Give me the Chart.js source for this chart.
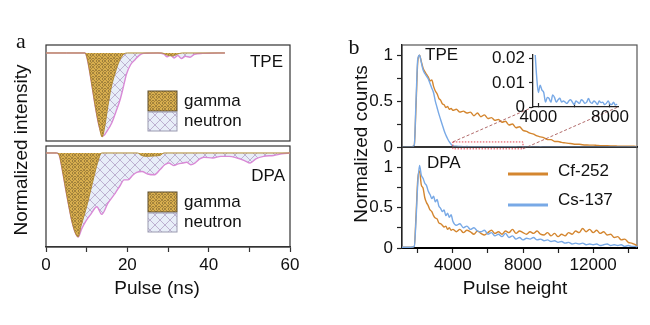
<!DOCTYPE html>
<html>
<head>
<meta charset="utf-8">
<script src="https://cdn.jsdelivr.net/npm/chart.js@4.4.1/dist/chart.umd.min.js"></script>
<style>
  html, body { margin: 0; padding: 0; background: #fff; }
  body { position: relative; width: 650px; height: 325px; overflow: hidden; font-family: Arial, "Liberation Sans", sans-serif; color: #111; }
  canvas { position: absolute; }
  .lbl { position: absolute; white-space: nowrap; line-height: 1; transform: translate(-50%, -50%); }
  .rot { transform: translate(-50%, -50%) rotate(-90deg); }
  .serif { font-family: "Liberation Serif", "Times New Roman", serif; font-size: 22px; }
</style>
</head>
<body>
<canvas id="aTop" width="300" height="105" style="left:0;top:40px"></canvas>
<canvas id="aBot" width="300" height="170" style="left:0;top:140px"></canvas>
<canvas id="bTop" width="310" height="118" style="left:340px;top:40px"></canvas>
<canvas id="bBot" width="310" height="170" style="left:340px;top:140px"></canvas>
<canvas id="bIns" width="160" height="90" style="left:470px;top:45px"></canvas>

<div class="lbl serif" style="left:21px;top:41px">a</div>
<div class="lbl serif" style="left:354px;top:47px">b</div>
<div class="lbl rot" style="left:20px;top:150px;font-size:19px">Normalized intensity</div>
<div class="lbl rot" style="left:360px;top:144px;font-size:19px">Normalized counts</div>
<div class="lbl" style="left:157px;top:287px;font-size:19px">Pulse (ns)</div>
<div class="lbl" style="left:515px;top:287px;font-size:19px">Pulse height</div>

<script>
// ---- panel a: pulse shapes (ns, normalized, negative going) ----
const tpeGammaNs  = [0, 5, 9.6, 10.1, 10.8, 11.5, 12.2, 13.1, 13.8, 14.5, 15.2, 16.0, 17.0, 18.0, 19.0, 20.0, 28.5, 29.8, 31.0, 32.2, 33.5, 44];
const tpeGammaVal = [0, 0, 0, -0.06, -0.24, -0.45, -0.66, -0.88, -1.0, -0.86, -0.64, -0.42, -0.24, -0.1, -0.02, 0, 0, -0.025, -0.035, -0.015, 0, 0];

const tpeNeutNs  = [0, 5, 9.6, 10.1, 10.8, 11.5, 12.2, 13.1, 14.0, 15.0, 16.2, 17.2, 18.2, 19.0, 19.8, 20.8, 21.9, 23.0, 24.0, 27.5, 29.0, 29.8, 30.6, 31.5, 32.4, 33.3, 34.3, 35.4, 36.5, 38.5, 44];
const tpeNeutVal = [0, 0, 0, -0.06, -0.24, -0.45, -0.66, -0.88, -0.99, -0.93, -0.83, -0.70, -0.56, -0.41, -0.25, -0.14, -0.08, -0.025, -0.005, 0, -0.015, -0.045, -0.025, -0.06, -0.03, -0.065, -0.04, -0.05, -0.015, -0.005, 0];

const dpaGammaNs  = [0, 2.5, 3.2, 4.0, 4.8, 5.6, 6.4, 7.2, 7.9, 8.6, 9.4, 10.2, 11.0, 11.8, 12.6, 13.7, 22.5, 23.5, 25.0, 26.5, 28.0, 29.0, 60];
const dpaGammaVal = [0, 0, -0.02, -0.2, -0.42, -0.63, -0.82, -0.95, -1.0, -0.87, -0.74, -0.6, -0.44, -0.28, -0.13, 0, 0, -0.03, -0.04, -0.035, -0.03, 0, 0];

const dpaNeutNs  = [0, 2.5, 3.2, 4.0, 4.8, 5.6, 6.4, 7.2, 7.9, 8.8, 9.8, 11.0, 12.5, 13.7, 15.2, 17.0, 18.2, 19.2, 20.2, 21.2, 22.3, 23.6, 25.0, 26.6, 28.0, 29.2, 30.2, 31.4, 32.5, 33.6, 34.6, 35.6, 36.6, 37.8, 38.8, 41.0, 43.0, 45.0, 47.0, 48.8, 50.2, 51.6, 53.5, 56.0, 58.0, 60];
const dpaNeutVal = [0, 0, -0.02, -0.2, -0.42, -0.63, -0.82, -0.95, -1.0, -0.9, -0.81, -0.73, -0.64, -0.73, -0.6, -0.48, -0.39, -0.32, -0.32, -0.27, -0.23, -0.22, -0.25, -0.26, -0.2, -0.14, -0.12, -0.15, -0.13, -0.12, -0.11, -0.14, -0.12, -0.07, -0.05, -0.06, -0.04, -0.04, -0.06, -0.09, -0.12, -0.07, -0.04, -0.03, -0.01, 0];

// ---- panel b: pulse height spectra ----
const heights = [1000, 1200, 1400, 1600,
  1800, 1900, 2000, 2100, 2200, 2300, 2400, 2500, 2600, 2700, 2800, 2900, 3000, 3100, 3200, 3300, 3400, 3500, 3600, 3700, 3800, 3900, 4000,
  4200, 4400, 4600, 4800, 5000, 5200, 5400, 5600, 5800, 6000, 6200, 6400, 6600, 6800, 7000, 7200, 7400, 7600, 7800, 8000,
  8200, 8400, 8600, 8800, 9000, 9200, 9400, 9600, 9800, 10000, 10200, 10400, 10600, 10800, 11000, 11200, 11400, 11600, 11800, 12000,
  12200, 12400, 12600, 12800, 13000, 13200, 13400, 13600, 13800, 14000, 14200, 14400, 14600];

const tpeCf = [0, 0, 0, 0,
  0.02, 0.45, 0.93, 1.0, 0.93, 0.86, 0.82, 0.79, 0.76, 0.72, 0.73, 0.66, 0.61, 0.58, 0.53, 0.51, 0.47, 0.46, 0.43, 0.44, 0.41, 0.42, 0.40,
  0.41, 0.38, 0.39, 0.37, 0.38, 0.34, 0.37, 0.33, 0.35, 0.31, 0.32, 0.29, 0.30, 0.27, 0.28, 0.24, 0.25, 0.21, 0.22, 0.18,
  0.17, 0.15, 0.14, 0.12, 0.11, 0.10, 0.08, 0.08, 0.06, 0.06, 0.05, 0.045, 0.04, 0.035, 0.03, 0.03, 0.025, 0.022, 0.02, 0.02,
  0.018, 0.015, 0.015, 0.013, 0.012, 0.012, 0.01, 0.01, 0.01, 0.008, 0.008, 0.007, 0.006];

const tpeCs = [0, 0, 0, 0,
  0.02, 0.5, 0.96, 1.0, 0.92, 0.84, 0.80, 0.77, 0.74, 0.69, 0.64, 0.59, 0.50, 0.43, 0.36, 0.30, 0.24, 0.18, 0.13, 0.09, 0.055, 0.03, 0.01,
  0.009, 0.006, 0.004, 0.005, 0.003, 0.003, 0.004, 0.002, 0.003, 0.002, 0.003, 0.002, 0.003, 0.002, 0.002, 0.003, 0.002, 0.002, 0.001, 0.002,
  0.001, 0.002, 0.001, 0.001, 0.002, 0.001, 0.001, 0.001, 0.001, 0.001, 0.001, 0.001, 0.001, 0.001, 0.001, 0.001, 0.001, 0.001, 0.001, 0.001,
  0.001, 0.001, 0.001, 0.001, 0.001, 0.001, 0.001, 0.001, 0.001, 0.001, 0.001, 0.001, 0.001];

const dpaCf = [0.01, 0.01, 0.01, 0.01,
  0.02, 0.4, 0.85, 0.95, 0.78, 0.74, 0.62, 0.56, 0.52, 0.47, 0.45, 0.40, 0.37, 0.36, 0.31, 0.30, 0.28, 0.26, 0.27, 0.23, 0.25, 0.22, 0.23,
  0.20, 0.23, 0.19, 0.22, 0.20, 0.17, 0.21, 0.18, 0.16, 0.19, 0.22, 0.18, 0.20, 0.17, 0.21, 0.19, 0.23, 0.18, 0.21, 0.19,
  0.17, 0.20, 0.18, 0.21, 0.17, 0.16, 0.19, 0.15, 0.18, 0.14, 0.17, 0.15, 0.19, 0.17, 0.21, 0.19, 0.24, 0.20, 0.23, 0.19,
  0.22, 0.18, 0.20, 0.16, 0.17, 0.13, 0.14, 0.10, 0.11, 0.07, 0.06, 0.04, 0.02];

const dpaCs = [0.01, 0.01, 0.01, 0.01,
  0.02, 0.35, 0.8, 1.02, 0.90, 0.86, 0.80, 0.77, 0.70, 0.66, 0.61, 0.64, 0.57, 0.60, 0.52, 0.49, 0.45, 0.47, 0.40, 0.43, 0.38, 0.41, 0.33,
  0.28, 0.30, 0.25, 0.27, 0.23, 0.25, 0.21, 0.20, 0.22, 0.17, 0.19, 0.15, 0.17, 0.14, 0.18, 0.13, 0.15, 0.11, 0.13, 0.10,
  0.12, 0.11, 0.13, 0.10, 0.11, 0.09, 0.10, 0.08, 0.09, 0.07, 0.08, 0.06, 0.07, 0.05, 0.06, 0.05, 0.06, 0.04, 0.05, 0.04,
  0.05, 0.03, 0.04, 0.05, 0.03, 0.04, 0.03, 0.04, 0.02, 0.03, 0.02, 0.02, 0.01];

// inset: TPE Cs-137 tail
const insetHeights = [3700, 3800, 3900, 4000, 4100, 4200, 4300, 4400, 4500, 4600, 4700, 4800, 4900, 5000, 5100, 5200, 5300, 5400, 5500, 5600,
  5700, 5800, 5900, 6000, 6100, 6200, 6300, 6400, 6500, 6600, 6700, 6800, 6900, 7000, 7100, 7200, 7300, 7400, 7500, 7600,
  7700, 7800, 7900, 8000, 8100, 8200, 8300, 8400];
const insetCs = [0.03, 0.024, 0.013, 0.006, 0.009, 0.007, 0.006, 0.002, 0.004, 0.0035, 0.002, 0.005, 0.004, 0.002, 0.003, 0.0036, 0.002, 0.0025, 0.002, 0.0015,
  0.0025, 0.003, 0.002, 0.001, 0.0025, 0.002, 0.0015, 0.003, 0.0025, 0.0015, 0.002, 0.0035, 0.002, 0.0015, 0.0025, 0.002, 0.001, 0.0025, 0.0018, 0.002,
  0.001, 0.0015, 0.0025, 0.0012, 0.001, 0.002, 0.0008, 0.0012];
const zoomRange = [4000, 8000];

// tick positions
const countTicksX = [2000, 4000, 6000, 8000, 10000, 12000, 14000];
const countTicksY = [0, 0.25, 0.5, 0.75, 1];
const insetTicksX = [4000, 6000, 8000];
const insetTicksY = [0, 0.01, 0.02];

const cfColor = '#d4862f';
const csColor = '#78a9e6';

Chart.defaults.font.family = 'Arial, "Liberation Sans", sans-serif';
Chart.defaults.font.size = 17;
Chart.defaults.color = '#111';

const pts = (xs, ys) => xs.map((x, i) => ({ x, y: ys[i] }));

function hatch(bg, ink, size, dot) {
  const cv = document.createElement('canvas');
  cv.width = cv.height = size;
  const g = cv.getContext('2d');
  g.fillStyle = bg;
  g.fillRect(0, 0, size, size);
  g.strokeStyle = ink;
  g.lineWidth = 0.7;
  g.beginPath();
  g.moveTo(0, 0); g.lineTo(size, size);
  g.moveTo(size, 0); g.lineTo(0, size);
  g.stroke();
  if (dot) {
    g.fillStyle = dot;
    g.fillRect(size / 2 - 0.5, 0, 1, 1);
    g.fillRect(0, size / 2 - 0.5, 1, 1);
  }
  return g.createPattern(cv, 'repeat');
}
const gammaFill = hatch('#d8ae4e', 'rgba(95,75,35,0.6)', 6, 'rgba(70,55,30,0.8)');
const neutFill = hatch('#e8eef8', 'rgba(150,120,170,0.75)', 10);

// frame, in-plot labels and legends
const deco = {
  id: 'deco',
  beforeDraw(chart, args, o) {
    if (!o.frame) return;
    const a = chart.chartArea, c = chart.ctx;
    c.save();
    c.strokeStyle = o.frame;
    c.lineWidth = 1.2;
    c.strokeRect(a.left, a.top, a.right - a.left, a.bottom - a.top);
    c.restore();
  },
  afterDraw(chart, args, o) {
    const a = chart.chartArea, c = chart.ctx;
    c.save();
    c.font = '17px Arial, "Liberation Sans", sans-serif';
    c.textBaseline = 'middle';
    c.fillStyle = '#111';
    (o.texts || []).forEach(t => {
      c.textAlign = t.align || 'left';
      c.fillText(t.text, a.left + t.x, a.top + t.y);
    });
    c.textAlign = 'left';
    (o.boxes || []).forEach(b => {
      const ds = chart.data.datasets[b.ds];
      c.fillStyle = ds.backgroundColor;
      c.fillRect(a.left + b.x, a.top + b.y, b.w, b.h);
      c.strokeStyle = b.edge;
      c.lineWidth = 1;
      c.strokeRect(a.left + b.x, a.top + b.y, b.w, b.h);
      c.fillStyle = '#111';
      c.fillText(ds.label, a.left + b.x + b.w + 7, a.top + b.y + b.h / 2);
    });
    (o.lines || []).forEach(l => {
      const ds = chart.data.datasets[l.ds];
      c.strokeStyle = ds.borderColor;
      c.lineWidth = 3;
      c.beginPath();
      c.moveTo(a.left + l.x1, a.top + l.y);
      c.lineTo(a.left + l.x2, a.top + l.y);
      c.stroke();
      c.fillStyle = '#111';
      c.fillText(ds.label, a.left + l.x2 + 10, a.top + l.ty);
    });
    c.restore();
  }
};
Chart.register(deco);

const fixWidth = w => s => { s.width = w; s.paddingLeft = s.paddingRight = s.paddingTop = s.paddingBottom = 0; };
const fixHeight = h => s => { s.height = h; s.paddingLeft = s.paddingRight = s.paddingTop = s.paddingBottom = 0; };
const useTicks = vals => s => { s.ticks = vals.map(v => ({ value: v })); };

function opts(padding, scales, decoOpts) {
  return {
    animation: false, responsive: false, devicePixelRatio: 1, events: [],
    layout: { padding },
    scales,
    elements: { point: { radius: 0 }, line: { cubicInterpolationMode: 'monotone' } },
    plugins: { legend: { display: false }, tooltip: { enabled: false }, deco: decoOpts }
  };
}

function pulseSets(gN, gV, nN, nV) {
  return [
    { label: 'gamma', data: pts(gN, gV), backgroundColor: gammaFill, borderColor: '#b08a34', borderWidth: 1, fill: 'origin', order: 0 },
    { label: 'neutron', data: pts(nN, nV), backgroundColor: neutFill, borderColor: '#d98ad6', borderWidth: 1.4, fill: 'origin', order: 1 }
  ];
}
const pulseBoxes = y0 => [
  { ds: 0, x: 102, y: y0, w: 29, h: 20, edge: '#5a4a2a' },
  { ds: 1, x: 102, y: y0 + 21, w: 29, h: 19, edge: '#9a9ab0' }
];

// panel a, TPE
new Chart(document.getElementById('aTop'), {
  type: 'line',
  data: { datasets: pulseSets(tpeGammaNs, tpeGammaVal, tpeNeutNs, tpeNeutVal) },
  options: opts({ left: 46, right: 10, top: 5, bottom: 4 }, {
    x: { type: 'linear', min: 0, max: 60, display: false },
    y: { min: -1.048, max: 0.095, display: false }
  }, { frame: '#333', texts: [{ text: 'TPE', x: 237, y: 17, align: 'right' }], boxes: pulseBoxes(46) })
});

// panel a, DPA
new Chart(document.getElementById('aBot'), {
  type: 'line',
  data: { datasets: pulseSets(dpaGammaNs, dpaGammaVal, dpaNeutNs, dpaNeutVal) },
  options: opts({ left: 46, right: 10, top: 6, bottom: 0 }, {
    x: {
      type: 'linear', min: 0, max: 60, afterFit: fixHeight(63),
      ticks: { stepSize: 10, padding: 3, maxRotation: 0, autoSkip: false, callback: v => (v % 20 === 0 ? String(v) : '') },
      grid: { drawOnChartArea: false, tickLength: 5, tickColor: '#333', tickWidth: 1.2 },
      border: { color: '#333', width: 1.3 }
    },
    y: { min: -1.119, max: 0.083, display: false }
  }, { frame: '#333', texts: [{ text: 'DPA', x: 239, y: 30, align: 'right' }], boxes: pulseBoxes(46) })
});

function countAxis(max, fitH, showTicks) {
  return {
    x: {
      type: 'linear', min: 1100, max: 14500, afterFit: fixHeight(fitH), afterBuildTicks: useTicks(countTicksX),
      ticks: { display: showTicks, padding: 2, maxRotation: 0, autoSkip: false, callback: v => (v % 4000 === 0 ? String(v) : '') },
      grid: { display: showTicks, drawOnChartArea: false, tickLength: 5, tickColor: '#222', tickWidth: 1.2 },
      border: { color: '#000', width: 2 }
    },
    y: {
      min: 0, max, afterFit: fixWidth(62), afterBuildTicks: useTicks(countTicksY),
      ticks: { padding: 4, callback: v => (v === 0 || v === 0.5 || v === 1 ? String(v) : '') },
      grid: { drawOnChartArea: false, tickLength: 5, tickColor: '#222', tickWidth: 1.2 },
      border: { color: '#222', width: 1.3 }
    }
  };
}
function spectrumSets(cf, cs) {
  return [
    { label: 'Cf-252', data: pts(heights, cf), borderColor: cfColor, borderWidth: 1.4, tension: 0, order: 1 },
    { label: 'Cs-137', data: pts(heights, cs), borderColor: csColor, borderWidth: 1.4, tension: 0, order: 0 }
  ];
}

// inset first, so the zoom connectors can find it
const insetCanvas = document.getElementById('bIns');
const insetChart = new Chart(insetCanvas, {
  type: 'line',
  data: { datasets: [{ label: 'Cs-137', data: pts(insetHeights, insetCs), borderColor: csColor, borderWidth: 1.4, tension: 0 }] },
  options: opts({ left: 0, right: 12, top: 10, bottom: 0 }, {
    x: {
      type: 'linear', min: 3700, max: 8450, afterFit: fixHeight(28), afterBuildTicks: useTicks(insetTicksX),
      ticks: { padding: 4, maxRotation: 0, autoSkip: false, callback: v => (v % 4000 === 0 ? String(v) : '') },
      grid: { drawOnChartArea: false, tickLength: -4, tickColor: '#222', tickWidth: 1.2 },
      border: { color: '#222', width: 1.3 }
    },
    y: {
      min: 0, max: 0.0215, afterFit: fixWidth(63), afterBuildTicks: useTicks(insetTicksY),
      ticks: { padding: 4, callback: v => (v === 0 ? '0' : v.toFixed(2)) },
      grid: { drawOnChartArea: false, tickLength: 4, tickColor: '#222', tickWidth: 1.2 },
      border: { color: '#222', width: 1.3 }
    }
  }, {})
});

const zoomLinks = {
  id: 'zoomLinks',
  afterDraw(chart) {
    const c = chart.ctx, xs = chart.scales.x, ys = chart.scales.y;
    const x1 = xs.getPixelForValue(zoomRange[0]), x2 = xs.getPixelForValue(zoomRange[1]);
    const y1 = ys.getPixelForValue(0.055), y2 = ys.getPixelForValue(-0.02);
    const dx = insetCanvas.offsetLeft - chart.canvas.offsetLeft;
    const dy = insetCanvas.offsetTop - chart.canvas.offsetTop;
    const ia = insetChart.chartArea;
    c.save();
    c.setLineDash([1.5, 1.5]);
    c.strokeStyle = '#e0404e';
    c.lineWidth = 1;
    c.strokeRect(x1, y1, x2 - x1, y2 - y1);
    c.setLineDash([3, 2]);
    c.strokeStyle = '#a85a5a';
    c.lineWidth = 0.9;
    c.beginPath();
    c.moveTo(x1, y1); c.lineTo(ia.left + dx, ia.bottom + dy);
    c.moveTo(x2, y2); c.lineTo(ia.right + dx, ia.bottom + dy);
    c.stroke();
    c.restore();
  }
};

// panel b, TPE
new Chart(document.getElementById('bTop'), {
  type: 'line',
  data: { datasets: spectrumSets(tpeCf, tpeCs) },
  options: opts({ left: 0, right: 13, top: 5, bottom: 0 }, countAxis(1.11, 11, false),
    { frame: '#555', texts: [{ text: 'TPE', x: 23, y: 10 }] }),
  plugins: [zoomLinks]
});

// panel b, DPA
new Chart(document.getElementById('bBot'), {
  type: 'line',
  data: { datasets: spectrumSets(dpaCf, dpaCs) },
  options: opts({ left: 0, right: 13, top: 7, bottom: 0 }, countAxis(1.247, 62, true),
    { frame: '#555', texts: [{ text: 'DPA', x: 25, y: 16 }],
      lines: [{ ds: 0, x1: 106, x2: 146, y: 27, ty: 24.5 }, { ds: 1, x1: 106, x2: 146, y: 58, ty: 53 }] })
});
</script>
</body>
</html>
